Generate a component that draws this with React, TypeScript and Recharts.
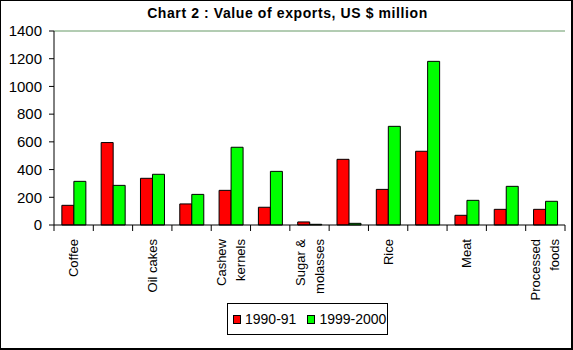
import { BarChart, Bar, XAxis, YAxis, ReferenceLine, Legend } from 'recharts'

const categories = [
  'Coffee',
  'Tea',
  'Oil cakes',
  'Tobacco',
  'Cashew\nkernels',
  'Spices',
  'Sugar &\nmolasses',
  'Raw cotton',
  'Rice',
  'Marine products',
  'Meat',
  'Fruits & vegetables',
  'Processed\nfoods',
]
const exports1990 = [142, 595, 337, 152, 250, 128, 22, 474, 257, 532, 70, 113, 113]
const exports1999 = [315, 286, 366, 221, 561, 387, 5, 12, 712, 1181, 178, 279, 171]
const yTicks = [0, 200, 400, 600, 800, 1000, 1200, 1400]

const data = categories.map((name, i) => ({
  name,
  a: exports1990[i],
  b: exports1999[i],
}))

const W = 573
const H = 350
const PLOT_LEFT = 54
const PLOT_RIGHT = 565
const BAND = (PLOT_RIGHT - PLOT_LEFT) / categories.length
const FONT = 'Liberation Sans, Arial, sans-serif'

function CategoryTick(props: any) {
  const { x, y, payload, index } = props
  const left = x - BAND / 2
  const lines = String(payload.value).split('\n')
  const showLabel = index % 2 === 0
  return (
    <g>
      <line x1={left} y1={y} x2={left} y2={y + 6} stroke="#000" />
      {index === categories.length - 1 && (
        <line x1={x + BAND / 2} y1={y} x2={x + BAND / 2} y2={y + 6} stroke="#000" />
      )}
      {showLabel &&
        lines.map((ln, i) => {
          const tx = x + (i - (lines.length - 1) / 2) * 19 + 4.5
          const ty = y + 14
          return (
            <text
              key={i}
              x={tx}
              y={ty}
              transform={`rotate(-90, ${tx}, ${ty})`}
              textAnchor="end"
              fontSize={13}
              fontFamily={FONT}
              fill="#000"
            >
              {ln}
            </text>
          )
        })}
    </g>
  )
}

function LegendBox() {
  const items = [
    { label: '1990-91', color: '#ff0000' },
    { label: '1999-2000', color: '#00ff00' },
  ]
  return (
    <div
      style={{
        border: '1px solid #000',
        background: '#fff',
        width: 161,
        height: 32,
        boxSizing: 'border-box',
        display: 'flex',
        alignItems: 'center',
        paddingLeft: 5,
        fontFamily: FONT,
        fontSize: 14,
        color: '#000',
        whiteSpace: 'nowrap',
      }}
    >
      {items.map((it, i) => (
        <span
          key={i}
          style={{ display: 'flex', alignItems: 'center', marginRight: i === 0 ? 11 : 0, flexShrink: 0 }}
        >
          <span
            style={{
              display: 'inline-block',
              width: 6,
              height: 7,
              background: it.color,
              border: '1px solid #000',
              marginRight: 4,
            }}
          />
          {it.label}
        </span>
      ))}
    </div>
  )
}

export default function App() {
  return (
    <div
      style={{
        position: 'absolute',
        left: 0,
        top: 0,
        width: W,
        height: H,
        background: '#fff',
        border: '1px solid #000',
        borderRightWidth: 2,
        borderBottomWidth: 2,
        boxSizing: 'border-box',
      }}
    >
      <div
        style={{
          position: 'absolute',
          left: 0,
          top: 4,
          width: W,
          textAlign: 'center',
          fontFamily: FONT,
          fontWeight: 'bold',
          fontSize: 14,
          letterSpacing: 0.6,
        }}
      >
        Chart 2 : Value of exports, US $ million
      </div>
      <div style={{ position: 'absolute', left: -1, top: -1 }}>
        <BarChart
          width={W}
          height={H}
          data={data}
          margin={{ top: 31, right: W - PLOT_RIGHT, left: 0, bottom: 0 }}
          barCategoryGap="20%"
          barGap={0}
        >
          <XAxis
            dataKey="name"
            interval={0}
            height={H - 225}
            tickSize={0}
            tickMargin={0}
            tickLine={false}
            axisLine={{ stroke: '#000' }}
            tick={<CategoryTick />}
          />
          <YAxis
            yAxisId="left"
            width={PLOT_LEFT}
            domain={[0, 1400]}
            ticks={yTicks}
            interval={0}
            tickSize={5}
            tickMargin={7}
            axisLine={{ stroke: '#000' }}
            tickLine={{ stroke: '#000' }}
            tick={{ fill: '#000', fontSize: 15, fontFamily: FONT }}
          />
          <YAxis
            yAxisId="right"
            orientation="right"
            width={0}
            domain={[0, 1400]}
            tick={false}
            tickLine={false}
            axisLine={{ stroke: '#669966' }}
          />
          <ReferenceLine yAxisId="left" y={1400} stroke="#669966" />
          <Legend
            layout="horizontal"
            verticalAlign="middle"
            align="center"
            wrapperStyle={{ position: 'absolute', left: 227, top: 303, width: 161, height: 32 }}
            content={() => <LegendBox />}
          />
          <Bar yAxisId="left" dataKey="a" name="1990-91" fill="#ff0000" stroke="#000" strokeWidth={1} isAnimationActive={false} />
          <Bar yAxisId="left" dataKey="b" name="1999-2000" fill="#00ff00" stroke="#000" strokeWidth={1} isAnimationActive={false} />
        </BarChart>
      </div>
    </div>
  )
}
